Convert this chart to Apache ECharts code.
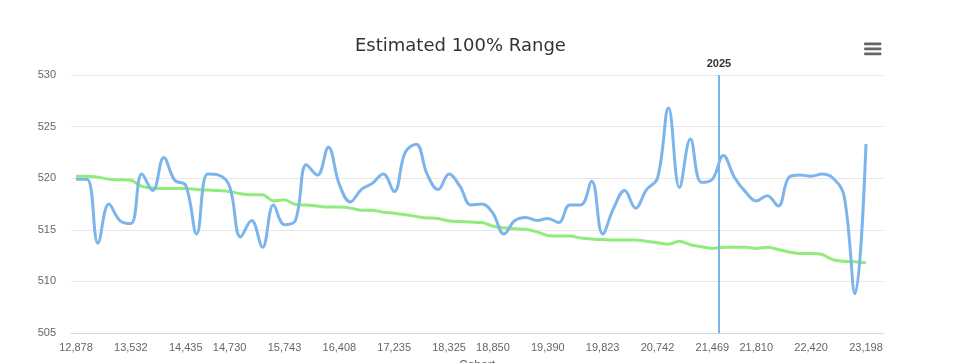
<!DOCTYPE html>
<html><head><meta charset="utf-8">
<script src="https://cdn.jsdelivr.net/npm/echarts@6/dist/echarts.min.js"></script>
<style>html,body{margin:0;padding:0;background:#fff}#c{width:960px;height:363px}</style>
</head><body><div id="c"></div>
<script>
// Estimated range (blue) per cohort index
const rangeValues = [
  519.9, 519.9, 513.7, 517.5, 515.9, 515.6, 520.4, 518.8, 522.0, 519.8,
  519.3, 514.6, 520.4, 520.3, 519.2, 514.3, 515.9, 513.3, 517.4, 515.5,
  515.9, 521.3, 520.3, 523.0, 519.4, 517.7, 518.9, 519.5, 520.4, 518.7,
  522.5, 523.3, 520.4, 518.9, 520.4, 519.2, 517.4, 517.5, 516.6, 514.6,
  515.9, 516.2, 515.9, 516.1, 515.7, 517.4, 517.4, 519.7, 514.6, 517.1,
  518.8, 517.1, 518.9, 520.0, 526.8, 519.1, 523.8, 519.6, 519.9, 522.2,
  520.1, 518.7, 517.8, 518.3, 517.3, 520.1, 520.3, 520.2, 520.4, 520.0,
  518.3, 508.8, 523.3
];
// Trend (green)
const trendValues = [
  520.2, 520.2, 520.1, 519.9, 519.85, 519.8, 519.2, 519.05, 519.0, 519.0,
  519.0, 518.9, 518.85, 518.8, 518.7, 518.5, 518.4, 518.4, 517.8, 517.9,
  517.45, 517.4, 517.3, 517.2, 517.2, 517.1, 516.9, 516.9, 516.7, 516.6,
  516.45, 516.3, 516.15, 516.1, 515.85, 515.8, 515.75, 515.7, 515.35, 515.2,
  515.1, 515.05, 514.8, 514.45, 514.4, 514.4, 514.2, 514.1, 514.05, 514.0,
  514.0, 514.0, 513.9, 513.75, 513.6, 513.9, 513.55, 513.35, 513.2, 513.3,
  513.3, 513.3, 513.2, 513.3, 513.1, 512.85, 512.7, 512.7, 512.6, 512.1,
  511.95, 511.9, 511.8
];
const tickIndices = [0, 5, 10, 14, 19, 24, 29, 34, 38, 43, 48, 53, 58, 62, 67, 72];
const tickLabels = ['12,878', '13,532', '14,435', '14,730', '15,743', '16,408', '17,235', '18,325',
  '18,850', '19,390', '19,823', '20,742', '21,469', '21,810', '22,420', '23,198'];
const markerLabel = '2025';
const markerPosition = 58.6;
const titleText = 'Estimated 100% Range';
const xAxisTitle = 'Cohort';

const labelMap = {};
tickIndices.forEach((v, i) => { labelMap[v] = tickLabels[i]; });

const chart = echarts.init(document.getElementById('c'), null, { renderer: 'canvas' });
chart.setOption({
  animation: false,
  title: {
    text: titleText, left: 350, top: 32,
    textStyle: { fontFamily: 'DejaVu Sans', fontSize: 18, fontWeight: 'normal', color: '#333333' }
  },
  grid: { left: 71, right: 77, top: 75, bottom: 30, containLabel: false, outerBoundsMode: 'none' },
  xAxis: {
    type: 'value', min: -0.456, max: 73.55,
    name: xAxisTitle, nameLocation: 'middle', nameGap: 27,
    nameTextStyle: { fontFamily: 'Liberation Sans', fontSize: 12, color: '#666666' },
    axisLine: { show: true, lineStyle: { color: '#ccd6eb', width: 1 } },
    axisTick: { show: false },
    splitLine: { show: false },
    axisLabel: {
      customValues: tickIndices,
      formatter: v => labelMap[Math.round(v)] || '',
      fontFamily: 'Liberation Sans', fontSize: 11, color: '#666666', margin: 9
    }
  },
  yAxis: {
    type: 'value', min: 505, max: 530, interval: 5,
    axisLine: { show: false }, axisTick: { show: false },
    splitLine: { lineStyle: { color: '#e6e6e6', width: 1 } },
    axisLabel: { fontFamily: 'Liberation Sans', fontSize: 11, color: '#666666', margin: 15 }
  },
  series: [
    {
      type: 'line', name: 'Range', data: rangeValues.map((v, i) => [i, v]),
      smooth: 0.4, showSymbol: false, symbol: 'none',
      lineStyle: { color: '#7cb5ec', width: 3 }, itemStyle: { color: '#7cb5ec' },
      z: 3,
      markLine: {
        silent: true, symbol: ['none', 'none'],
        lineStyle: { color: '#7cb5ec', width: 2, type: 'solid' },
        label: { show: true, position: 'end', formatter: markerLabel, fontFamily: 'Liberation Sans',
          fontSize: 11, fontWeight: 'bold', color: '#333333', distance: 6 },
        data: [{ xAxis: markerPosition }]
      }
    },
    {
      type: 'line', name: 'Trend', data: trendValues.map((v, i) => [i, v]),
      smooth: 0.3, showSymbol: false, symbol: 'none',
      lineStyle: { color: '#90ed7d', width: 3 }, itemStyle: { color: '#90ed7d' },
      z: 2
    }
  ],
  graphic: [
    { type: 'rect', shape: { x: 864, y: 42.5, width: 17.5, height: 2.8, r: 1.2 }, style: { fill: '#666666' } },
    { type: 'rect', shape: { x: 864, y: 47.5, width: 17.5, height: 2.8, r: 1.2 }, style: { fill: '#666666' } },
    { type: 'rect', shape: { x: 864, y: 52.5, width: 17.5, height: 2.8, r: 1.2 }, style: { fill: '#666666' } }
  ]
});
</script></body></html>
